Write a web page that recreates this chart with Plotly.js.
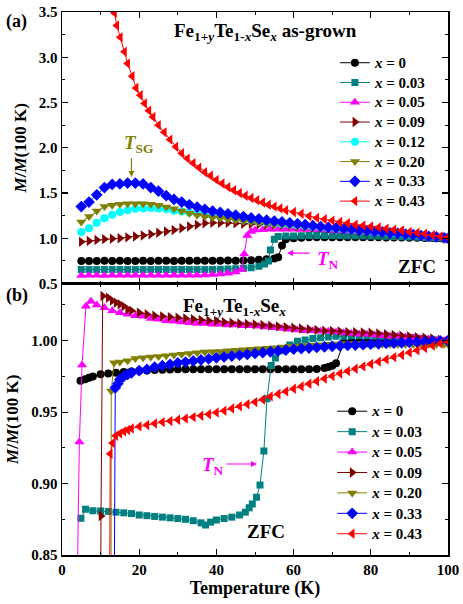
<!DOCTYPE html>
<html>
<head>
<meta charset="utf-8">
<script src="https://cdn.plot.ly/plotly-3.0.1.min.js"></script>
<style>
  body { margin: 0; padding: 0; background: #fff; }
  #graph { width: 463px; height: 604px; }
</style>
</head>
<body>
<div id="graph"></div>
<script>
// ---- panel (a): as-grown, M/M(100 K) ----
var tA0 = [5,7,9,11,13,15,17,19,21,23,25,27,29,31,33,35,37,39,41,43,45,47,49,51,53,55,56,57,58,60,62,64,66,68,70,72,74,76,78,80,82,84,86,88,90,92,94,96,98,100];
var mA0 = [0.748,0.75,0.75,0.751,0.75,0.751,0.75,0.75,0.751,0.75,0.751,0.751,0.75,0.751,0.752,0.751,0.752,0.752,0.752,0.753,
           0.752,0.755,0.758,0.762,0.768,0.777,0.79,0.92,0.99,1.0,1.005,1.01,1.01,1.01,1.01,1.01,1.01,1.01,1.01,1.01,
           1.01,1.009,1.008,1.007,1.006,1.005,1.004,1.003,1.001,1.0];

var tA03 = [5,7,9,11,13,15,17,19,21,23,25,27,29,31,33,35,37,39,41,43,45,47,49,51,52.5,53.5,54,55,56,58,60,62,64,66,68,70,72,74,76,78,80,82,84,86,88,90,92,94,96,98,100];
var mA03 = [0.655,0.654,0.655,0.655,0.654,0.655,0.655,0.655,0.654,0.655,0.655,0.655,0.656,0.655,0.655,0.656,0.656,0.656,0.658,0.66,
            0.663,0.668,0.675,0.69,0.715,0.75,0.87,0.99,1.02,1.025,1.025,1.028,1.03,1.03,1.03,1.03,1.03,1.029,1.028,1.027,
            1.026,1.024,1.022,1.02,1.017,1.015,1.012,1.009,1.006,1.003,1.0];

var tA05 = [5,7,9,11,13,15,17,19,21,23,25,27,29,31,33,35,37,39,41,43,45,46.5,47.2,48,49,50,52,54,56,58,60,62,64,66,68,70,72,74,76,78,80,82,84,86,88,90,92,94,96,98,100];
var mA05 = [0.588,0.59,0.59,0.589,0.59,0.59,0.59,0.59,0.59,0.59,0.59,0.591,0.59,0.591,0.591,0.592,0.595,0.6,0.605,0.613,
            0.627,0.655,0.825,1.03,1.075,1.09,1.095,1.1,1.1,1.1,1.1,1.098,1.096,1.093,1.09,1.087,1.083,1.079,1.075,1.07,
            1.065,1.06,1.054,1.048,1.042,1.036,1.029,1.022,1.015,1.008,1.0];

var tA = [5,7,9,11,13,15,17,19,21,23,25,27,29,31,33,35,37,39,41,43,45,47,49,51,53,55,57,59,61,63,65,67,69,71,73,75,77,79,81,83,85,87,89,91,93,95,97,99,100];
var mA09 = [0.96,0.97,0.98,0.99,0.995,1.0,1.01,1.02,1.03,1.045,1.06,1.075,1.09,1.11,1.13,1.15,1.165,1.17,1.17,1.17,
            1.165,1.16,1.16,1.155,1.15,1.15,1.145,1.14,1.135,1.13,1.12,1.115,1.11,1.1,1.095,1.09,1.08,1.075,1.07,1.06,
            1.055,1.045,1.04,1.03,1.025,1.015,1.01,1.005,1.0];
var mA12 = [1.07,1.11,1.17,1.22,1.26,1.29,1.31,1.325,1.33,1.335,1.33,1.32,1.305,1.295,1.285,1.275,1.26,1.25,1.24,1.23,
            1.215,1.205,1.195,1.185,1.175,1.165,1.155,1.15,1.14,1.135,1.125,1.12,1.11,1.105,1.1,1.09,1.085,1.08,1.07,1.065,
            1.055,1.05,1.04,1.035,1.025,1.02,1.01,1.005,1.0];
var mA20 = [1.18,1.24,1.3,1.35,1.365,1.375,1.38,1.38,1.38,1.375,1.365,1.345,1.325,1.3,1.275,1.255,1.24,1.23,1.22,1.21,
            1.2,1.19,1.18,1.17,1.165,1.155,1.15,1.14,1.135,1.125,1.12,1.11,1.105,1.1,1.09,1.085,1.08,1.07,1.065,1.06,
            1.05,1.045,1.04,1.03,1.025,1.02,1.01,1.005,1.0];
var mA33 = [1.35,1.4,1.48,1.56,1.595,1.6,1.61,1.61,1.6,1.56,1.52,1.47,1.43,1.4,1.37,1.345,1.32,1.3,1.285,1.27,
            1.255,1.24,1.225,1.215,1.2,1.19,1.18,1.17,1.16,1.15,1.14,1.13,1.12,1.115,1.105,1.1,1.09,1.085,1.075,1.07,
            1.06,1.055,1.045,1.04,1.03,1.02,1.015,1.005,1.0];

var tA43 = [13.6,14.2,15.1,16.2,17,18.2,19.2,20.3,21.4,22.5,23.6,25,26.5,28,29.5,31,32.5,34,35.5,37,
            38.5,40,41.5,43,44.5,46,47.5,49,50.5,52,53.5,55,56.5,58,60,62,64,66,68,70,
            72,74,76,78,80,82,84,86,88,90,92,94,96,98,100];
var mA43 = [3.49,3.35,3.22,3.06,2.93,2.79,2.66,2.58,2.49,2.41,2.34,2.25,2.17,2.09,2.01,1.94,1.88,1.83,1.78,1.73,
            1.69,1.645,1.605,1.565,1.53,1.5,1.47,1.445,1.42,1.395,1.37,1.35,1.33,1.31,1.29,1.27,1.245,1.225,1.21,1.195,
            1.18,1.165,1.15,1.14,1.13,1.12,1.105,1.095,1.085,1.07,1.06,1.05,1.035,1.02,1.01];

// ---- panel (b) ----
var tB0 = [4.8,6,7,8,10,12,14,16,18,20,22,24,26,28,30,32,34,36,38,40,42,44,46,48,50,52,54,56,58,60,
           62,64,66,68,69,70,71,73,75,77,79,81,83,85,87,89,91,93,95,97,99,100];
var mB0 = [0.972,0.973,0.974,0.975,0.9765,0.977,0.9775,0.978,0.9785,0.979,0.9792,0.9794,0.9796,0.9798,0.98,0.98,0.98,0.98,0.98,0.98,
           0.98,0.98,0.98,0.98,0.98,0.98,0.98,0.98,0.98,0.98,0.98,0.98,0.9802,0.9808,0.9815,0.9825,0.9842,0.9985,0.9995,0.9995,
           0.999,0.999,0.999,0.999,0.999,0.999,0.999,0.999,0.999,0.999,0.9995,1.0];

var tB03 = [4.9,6.1,8,10,12,14,16,18,20,22,24,26,28,30,32,34,36,37.2,38.5,40,42,44,46,47.5,48.5,49.3,50.4,51.3,52.3,53.1,
            54.2,55.3,57,59,61,63,65,67,69,71,73,75,77,79,81,83,85,87,89,91,93,95,97,99,100];
var mB03 = [0.8757,0.882,0.881,0.8808,0.8805,0.88,0.8795,0.879,0.878,0.8775,0.877,0.8765,0.876,0.8755,0.875,0.874,0.8725,0.871,0.873,0.8745,
            0.8755,0.8765,0.878,0.88,0.883,0.8857,0.8904,0.899,0.9228,0.9593,0.9827,0.9878,0.993,0.997,0.9995,1.0005,1.0015,1.002,1.0025,1.003,
            1.003,1.0035,1.0035,1.0035,1.003,1.003,1.003,1.0025,1.002,1.002,1.0015,1.001,1.0005,1.0,1.0];

var tB05 = [3.8,4.5,5.2,6.2,7.5,9,11,13,15,17,19,21,23,25,27,29,31,33,35,37,39,41,43,45,47,49,51,53,55,57,
            59,61,63,65,67,69,71,73,75,77,79,81,83,85,87,89,91,93,95,97,99,100];
var mB05 = [0.80,0.929,0.983,1.024,1.0275,1.025,1.023,1.021,1.0195,1.0185,1.0175,1.017,1.0155,1.015,1.014,1.0135,1.013,1.0125,1.012,1.012,
            1.0115,1.0115,1.011,1.011,1.0105,1.0105,1.01,1.0095,1.009,1.0085,1.008,1.0075,1.007,1.007,1.0065,1.0065,1.006,1.0055,1.005,1.0045,
            1.0045,1.004,1.0035,1.003,1.003,1.0025,1.002,1.0015,1.001,1.0005,1.0,1.0];

var tB09 = [10,10.1,10.55,12,13,14,15,16,17,18,20,22,24,26,28,30,32,34,36,38,40,42,44,46,48,50,52,54,56,58,
            60,62,64,66,68,70,72,74,76,78,80,82,84,86,88,90,92,94,96,98,100];
var mB09 = [0.80,0.8773,1.0313,1.03,1.028,1.0265,1.0255,1.024,1.022,1.021,1.0196,1.0185,1.0175,1.017,1.0165,1.016,1.0155,1.015,1.0145,1.014,
            1.0138,1.013,1.0125,1.012,1.0117,1.0114,1.011,1.0105,1.01,1.0095,1.009,1.0085,1.008,1.0075,1.007,1.0068,1.0065,1.006,1.006,1.0058,
            1.0056,1.005,1.0045,1.004,1.0035,1.003,1.0025,1.002,1.0015,1.0005,1.0];

var tB20 = [12.7,12.75,13.5,15,17,19,21,23,25,27,29,31,33,35,37,39,41,43,45,47,49,51,53,55,57,59,61,63,65,67,
            69,71,73,75,77,79,81,83,85,87,89,91,93,95,97,99,100];
var mB20 = [0.80,0.9647,0.9846,0.985,0.986,0.9875,0.988,0.9885,0.989,0.9895,0.99,0.9905,0.991,0.9915,0.992,0.9922,0.9925,0.993,0.9933,0.9937,
            0.994,0.9943,0.9947,0.995,0.9955,0.996,0.9963,0.9966,0.997,0.9972,0.9975,0.9977,0.998,0.998,0.998,0.9978,0.9977,0.9975,0.9975,0.9975,
            0.9975,0.9975,0.9975,0.9975,0.9975,0.9975,0.9975];

var tB33 = [13.5,13.8,14.5,15,16,17,18,20,22,24,26,28,30,32,34,36,38,40,42,44,46,48,50,52,54,56,58,60,62,64,
            66,68,70,72,74,76,78,80,82,84,86,88,90,92,94,96,98,100];
var mB33 = [0.80,0.967,0.970,0.9729,0.975,0.9764,0.9775,0.979,0.98,0.9815,0.9825,0.9835,0.9845,0.985,0.9858,0.9865,0.9873,0.988,0.9886,0.9892,
            0.9898,0.9904,0.991,0.9916,0.9922,0.9928,0.9934,0.994,0.9944,0.9948,0.9952,0.9956,0.996,0.9963,0.9966,0.9969,0.9972,0.9975,0.9978,0.998,
            0.9982,0.9985,0.9987,0.999,0.9992,0.9995,0.9998,1.0];

var tB43 = [12.3,12.5,13.1,13.9,15,16,17,18,20,22,24,26,28,30,32,34,36,38,40,42,44,46,48,50,52,54,56,58,60,62,
            64,66,68,70,72,74,76,78,80,82,84,86,88,90,92,94,96,98,100];
var mB43 = [0.80,0.9208,0.9283,0.9334,0.935,0.9365,0.9375,0.9385,0.94,0.941,0.942,0.943,0.9438,0.9446,0.9455,0.9465,0.9475,0.9485,0.9497,0.951,
            0.9525,0.954,0.9555,0.957,0.9588,0.961,0.9627,0.9645,0.9663,0.968,0.9698,0.9716,0.9734,0.9752,0.977,0.9787,0.9803,0.982,0.9837,0.9853,
            0.9869,0.9885,0.99,0.9917,0.9933,0.9949,0.9965,0.998,0.9995];

var serif = 'Liberation Serif';

function makeTrace(t, m, label, color, symbol, size, panel){
    var top = (panel === 'a');
    return {
        x: t,
        y: m,
        xaxis: top ? 'x2' : 'x',
        yaxis: top ? 'y2' : 'y',
        legend: top ? 'legend' : 'legend2',
        mode: 'lines+markers',
        // legend row spacing follows legend font size, so the label carries its own size
        name: '<span style="font-size:15px"><i>x</i> = ' + label + '</span>',
        line: {color: color, width: 1},
        marker: {color: color, symbol: symbol, size: size, line: {width: 0}}
    };
}

var graphData = [
    makeTrace(tA0,  mA0,  '0',    '#000000', 'circle',         8, 'a'),
    makeTrace(tA03, mA03, '0.03', '#008080', 'square',         7, 'a'),
    makeTrace(tA05, mA05, '0.05', '#ff00ff', 'triangle-up',    9, 'a'),
    makeTrace(tA,   mA09, '0.09', '#800000', 'triangle-right', 9, 'a'),
    makeTrace(tA,   mA12, '0.12', '#00ffff', 'circle',         8, 'a'),
    makeTrace(tA,   mA20, '0.20', '#808000', 'triangle-down',  9, 'a'),
    makeTrace(tA,   mA33, '0.33', '#0000ff', 'diamond',        9, 'a'),
    makeTrace(tA43, mA43, '0.43', '#ff0000', 'triangle-left',  9, 'a'),

    makeTrace(tB0,  mB0,  '0',    '#000000', 'circle',         8, 'b'),
    makeTrace(tB03, mB03, '0.03', '#008080', 'square',         7, 'b'),
    makeTrace(tB05, mB05, '0.05', '#ff00ff', 'triangle-up',    9, 'b'),
    makeTrace(tB09, mB09, '0.09', '#800000', 'triangle-right', 9, 'b'),
    makeTrace(tB20, mB20, '0.20', '#808000', 'triangle-down',  9, 'b'),
    makeTrace(tB33, mB33, '0.33', '#0000ff', 'diamond',        9, 'b'),
    makeTrace(tB43, mB43, '0.43', '#ff0000', 'triangle-left',  9, 'b')
];

function axisStyle(extra){
    var a = {
        showline: true, linecolor: '#000', linewidth: 1.5, mirror: 'ticks',
        ticks: 'inside', ticklen: 6, tickwidth: 1.2, tickcolor: '#000',
        showgrid: false, zeroline: false, fixedrange: true,
        tickfont: {family: serif, size: 15, color: '#000', weight: 'bold'}
    };
    for (var k in extra) a[k] = extra[k];
    return a;
}

var yTitle = {
    text: '<i>M</i>/<i>M</i>(100 K)',
    font: {family: serif, size: 17, color: '#000', weight: 'bold'},
    standoff: 8
};

var legendStyle = {
    bgcolor: 'rgba(0,0,0,0)', borderwidth: 0,
    font: {family: serif, size: 13, color: '#000', weight: 'bold'},
    xanchor: 'left', yanchor: 'top', tracegroupgap: 0
};

function legendAt(x, y, fs){
    var l = {};
    for (var k in legendStyle) l[k] = legendStyle[k];
    l.font = {family: serif, size: fs, color: '#000', weight: 'bold'};
    l.x = x; l.y = y;
    return l;
}

function note(text, x, y, size, color){
    return {
        xref: 'paper', yref: 'paper', x: x, y: y, text: text, showarrow: false,
        xanchor: 'center', yanchor: 'middle',
        font: {family: serif, size: size, color: color || '#000', weight: 'bold'}
    };
}

function arrow(xa, ya, x, y, ax, ay, color){
    return {
        xref: xa, yref: ya, x: x, y: y, ax: ax, ay: ay, text: '',
        showarrow: true, arrowhead: 2, arrowsize: 1, arrowwidth: 1.2, arrowcolor: color
    };
}

var layout = {
    width: 463,
    height: 604,
    margin: {l: 62, r: 15, t: 12, b: 49},
    paper_bgcolor: '#fff',
    plot_bgcolor: '#fff',
    font: {family: serif, size: 14, color: '#000', weight: 'bold'},
    showlegend: true,

    xaxis: axisStyle({
        domain: [0, 1], anchor: 'y', range: [0, 100], dtick: 20,
        minor: {ticks: 'inside', ticklen: 3, dtick: 10, tickcolor: '#000', tickwidth: 1},
        title: {text: 'Temperature (K)', font: {family: serif, size: 18, color: '#000', weight: 'bold'}, standoff: 5}
    }),
    yaxis: axisStyle({
        domain: [0, 0.5], anchor: 'x', range: [0.85, 1.04], dtick: 0.05, tickformat: '.2f',
        minor: {ticks: 'inside', ticklen: 3, dtick: 0.025, tickcolor: '#000', tickwidth: 1},
        title: yTitle
    }),
    xaxis2: axisStyle({
        domain: [0, 1], anchor: 'y2', range: [0, 100], dtick: 20, showticklabels: false,
        minor: {ticks: 'inside', ticklen: 3, dtick: 10, tickcolor: '#000', tickwidth: 1}
    }),
    yaxis2: axisStyle({
        domain: [0.5, 1], anchor: 'x2', range: [0.5, 3.5], dtick: 0.5, tickformat: '.1f',
        minor: {ticks: 'inside', ticklen: 3, dtick: 0.25, tickcolor: '#000', tickwidth: 1},
        title: yTitle
    }),

    legend: legendAt(0.707, 0.934, 12.9),
    legend2: legendAt(0.700, 0.2928, 13.4),

    annotations: [
        note('(a)', -0.117, 0.982, 18),
        note('(b)', -0.117, 0.477, 18),
        note('Fe<sub>1+<i>y</i></sub>Te<sub>1-<i>x</i></sub>Se<sub><i>x</i></sub> as-grown', 0.526, 0.964, 19),
        note('Fe<sub>1+<i>y</i></sub>Te<sub>1-<i>x</i></sub>Se<sub><i>x</i></sub>', 0.446, 0.457, 19),
        note('ZFC', 0.92, 0.532, 19),
        note('ZFC', 0.528, 0.044, 19),
        note('<i>T</i><sub>SG</sub>', (138 - 62) / 386, (555 - 144) / 543, 19, '#808000'),
        note('<i>T</i><sub>N</sub>', (328 - 62) / 386, (555 - 260) / 543, 19, '#ff00ff'),
        note('<i>T</i><sub>N</sub>', (213 - 62) / 386, (555 - 466) / 543, 19, '#ff00ff'),
        arrow('x2', 'y2', 18.0, 1.678, 0, -20, '#808000'),
        arrow('x2', 'y2', 58.3, 0.836, 24, 0, '#ff00ff'),
        arrow('x', 'y', 50.5, 0.9137, -32, 0, '#ff00ff')
    ]
};

Plotly.newPlot('graph', graphData, layout, {displayModeBar: false, staticPlot: true});
</script>
</body>
</html>
